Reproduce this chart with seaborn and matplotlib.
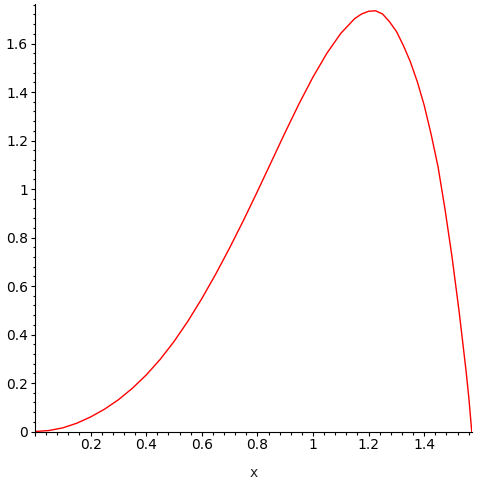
import numpy as np
import pandas as pd
import matplotlib
matplotlib.use("Agg")
import matplotlib.pyplot as plt
import seaborn as sns
from matplotlib.ticker import MultipleLocator, AutoMinorLocator, FuncFormatter

# values
x_vals = [0.0, 0.05, 0.10, 0.15, 0.20, 0.25, 0.30, 0.35, 0.40, 0.45,
          0.50, 0.55, 0.60, 0.65, 0.70, 0.75, 0.80, 0.85, 0.90, 0.95,
          1.00, 1.05, 1.10, 1.15, 1.175, 1.20, 1.225, 1.25, 1.275, 1.30,
          1.325, 1.35, 1.375, 1.40, 1.425, 1.45, 1.475, 1.50, 1.525, 1.55,
          1.56, 1.571]
y_vals = [0.0, 0.004, 0.015, 0.034, 0.060, 0.092, 0.131, 0.178, 0.233, 0.297,
          0.371, 0.455, 0.548, 0.649, 0.757, 0.871, 0.990, 1.112, 1.234, 1.352,
          1.462, 1.560, 1.642, 1.703, 1.722, 1.733, 1.735, 1.722, 1.690, 1.650,
          1.592, 1.525, 1.443, 1.345, 1.225, 1.090, 0.915, 0.720, 0.500, 0.255,
          0.145, 0.0]

df = pd.DataFrame({"x": x_vals, "y": y_vals})

sns.set_style("white")
plt.rcParams['font.family'] = ['DejaVu Sans']

fig = plt.figure(figsize=(4.84, 4.84), dpi=100)
ax = fig.add_axes([35 / 484, 52.5 / 484, 436.7 / 484, 427.5 / 484])

sns.lineplot(data=df, x="x", y="y", color="#ff0000", linewidth=1.0, ax=ax)

ax.set_xlim(0, 1.5708)
ax.set_ylim(0, 1.763)

ax.xaxis.set_major_locator(MultipleLocator(0.2))
ax.yaxis.set_major_locator(MultipleLocator(0.2))
ax.xaxis.set_minor_locator(AutoMinorLocator(5))
ax.yaxis.set_minor_locator(AutoMinorLocator(5))
ax.xaxis.set_major_formatter(FuncFormatter(lambda v, p: '' if abs(v) < 1e-9 else f'{v:g}'))
ax.yaxis.set_major_formatter(FuncFormatter(lambda v, p: f'{v:g}'))

for s in ['top', 'right']:
    ax.spines[s].set_visible(False)
for s in ['left', 'bottom']:
    ax.spines[s].set_color('black')
    ax.spines[s].set_linewidth(0.8)

ax.tick_params(which='major', direction='out', length=3, width=0.8, color='black',
               labelsize=10, labelcolor='black', pad=2, left=True, bottom=True)
ax.tick_params(which='minor', direction='out', length=1.8, width=0.8, color='black',
               left=True, bottom=True)

ax.set_xlabel('x', fontsize=10, labelpad=10)
ax.set_ylabel('')

fig.savefig("out.png", dpi=100)
